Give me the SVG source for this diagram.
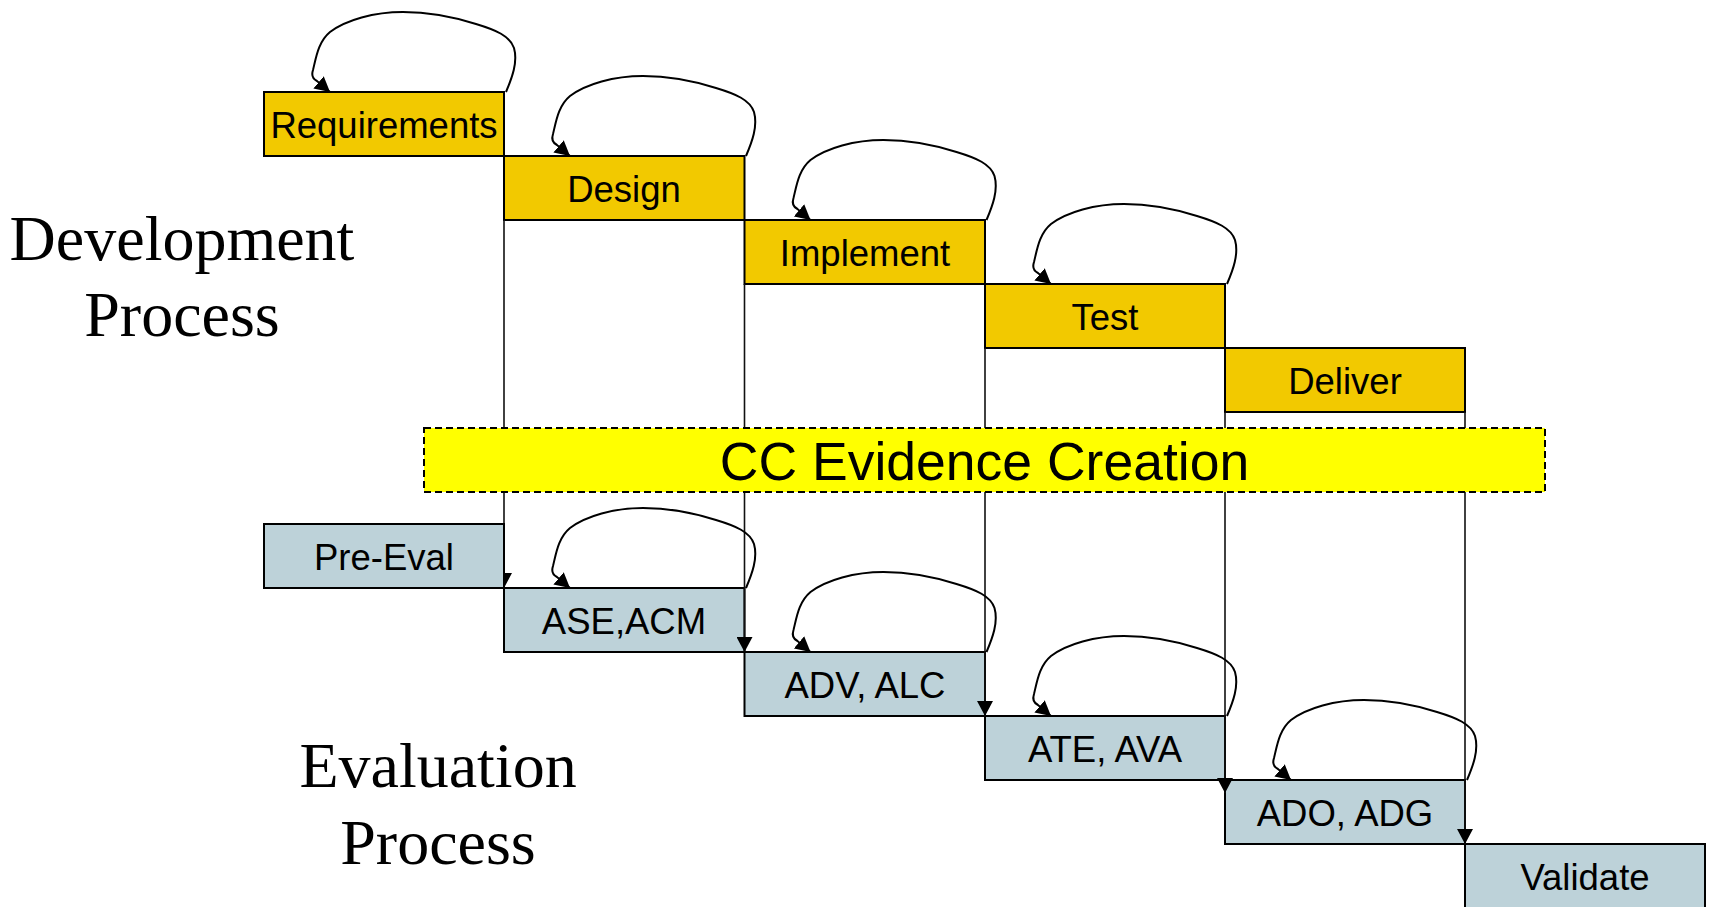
<svg xmlns="http://www.w3.org/2000/svg" width="1710" height="907" viewBox="0 0 1710 907">
<style>
.dev{fill:#F2C900;stroke:#000;stroke-width:2}
.eval{fill:#BDD2D9;stroke:#000;stroke-width:2}
.lbl{font-family:"Liberation Sans",Arial,sans-serif;font-size:36.5px;fill:#000;text-anchor:middle}
.big{font-family:"Liberation Serif","Times New Roman",serif;font-size:64px;fill:#000;text-anchor:middle}
.vline{fill:none;stroke:#111;stroke-width:1.6;marker-end:url(#ah)}
.loop{fill:none;stroke:#000;stroke-width:2;marker-end:url(#ah)}
.cc{fill:#FFFF00;stroke:#000;stroke-width:2;stroke-dasharray:7 4}
.cctext{font-family:"Liberation Sans",Arial,sans-serif;font-size:53.5px;fill:#000;text-anchor:middle}
</style>
<defs>
<marker id="ah" viewBox="0 0 15 16" refX="15" refY="8" markerWidth="15" markerHeight="16" markerUnits="userSpaceOnUse" orient="auto">
<path d="M0,0 L15,8 L0,16 z" fill="#000"/>
</marker>
<path id="lp" d="M 242,0 C 248,-14 254,-30 250,-44 C 246,-56 232,-62 212,-68 C 190,-75 165,-80 139,-80 C 110,-80 82,-72 66,-60 C 54,-50 52,-34 49,-22 C 47,-16 49,-13 53,-11 L 66,0"/>
</defs>
<rect width="1710" height="907" fill="#fff"/>

<g id="label-dev">
<text class="big" x="182" y="260">Development</text>
<text class="big" x="182" y="336">Process</text>
</g>
<g id="label-eval">
<text class="big" x="438" y="787">Evaluation</text>
<text class="big" x="438" y="864">Process</text>
</g>

<g id="requirements"><rect class="dev" x="264" y="92" width="240" height="64"/><text class="lbl" x="384" y="138">Requirements</text></g>
<g id="design"><rect class="dev" x="504" y="156" width="240.5" height="64"/><text class="lbl" x="624" y="202">Design</text></g>
<g id="implement"><rect class="dev" x="744.5" y="220" width="240.5" height="64"/><text class="lbl" x="865" y="266">Implement</text></g>
<g id="test"><rect class="dev" x="985" y="284" width="240" height="64"/><text class="lbl" x="1105" y="330">Test</text></g>
<g id="deliver"><rect class="dev" x="1225" y="348" width="240" height="64"/><text class="lbl" x="1345" y="394">Deliver</text></g>

<g id="ase-acm"><rect class="eval" x="504" y="588" width="240.5" height="64"/><text class="lbl" x="624" y="634">ASE,ACM</text></g>
<g id="adv-alc"><rect class="eval" x="744.5" y="652" width="240.5" height="64"/><text class="lbl" x="865" y="698">ADV, ALC</text></g>
<g id="ate-ava"><rect class="eval" x="985" y="716" width="240" height="64"/><text class="lbl" x="1105" y="762">ATE, AVA</text></g>
<g id="ado-adg"><rect class="eval" x="1225" y="780" width="240" height="64"/><text class="lbl" x="1345" y="826">ADO, ADG</text></g>
<g id="validate"><rect class="eval" x="1465" y="844" width="240" height="66"/><text class="lbl" x="1585" y="890">Validate</text></g>

<g id="connectors">
<path class="vline" d="M504,220 V588"/>
<path class="vline" d="M744.5,284 V652"/>
<path class="vline" d="M985,348 V716"/>
<path class="vline" d="M1225,412 V793"/>
<path class="vline" d="M1465,412 V844"/>
<use href="#lp" class="loop" transform="translate(264,92)"/>
<use href="#lp" class="loop" transform="translate(504,156)"/>
<use href="#lp" class="loop" transform="translate(744.5,220)"/>
<use href="#lp" class="loop" transform="translate(985,284)"/>
<use href="#lp" class="loop" transform="translate(504,588)"/>
<use href="#lp" class="loop" transform="translate(744.5,652)"/>
<use href="#lp" class="loop" transform="translate(985,716)"/>
<use href="#lp" class="loop" transform="translate(1225,780)"/>
</g>

<g id="cc-evidence"><rect class="cc" x="424" y="428" width="1121" height="64"/><text class="cctext" x="984.5" y="480">CC Evidence Creation</text></g>

<g id="pre-eval"><rect class="eval" x="264" y="524" width="240" height="64"/><text class="lbl" x="384" y="570">Pre-Eval</text></g>
</svg>
